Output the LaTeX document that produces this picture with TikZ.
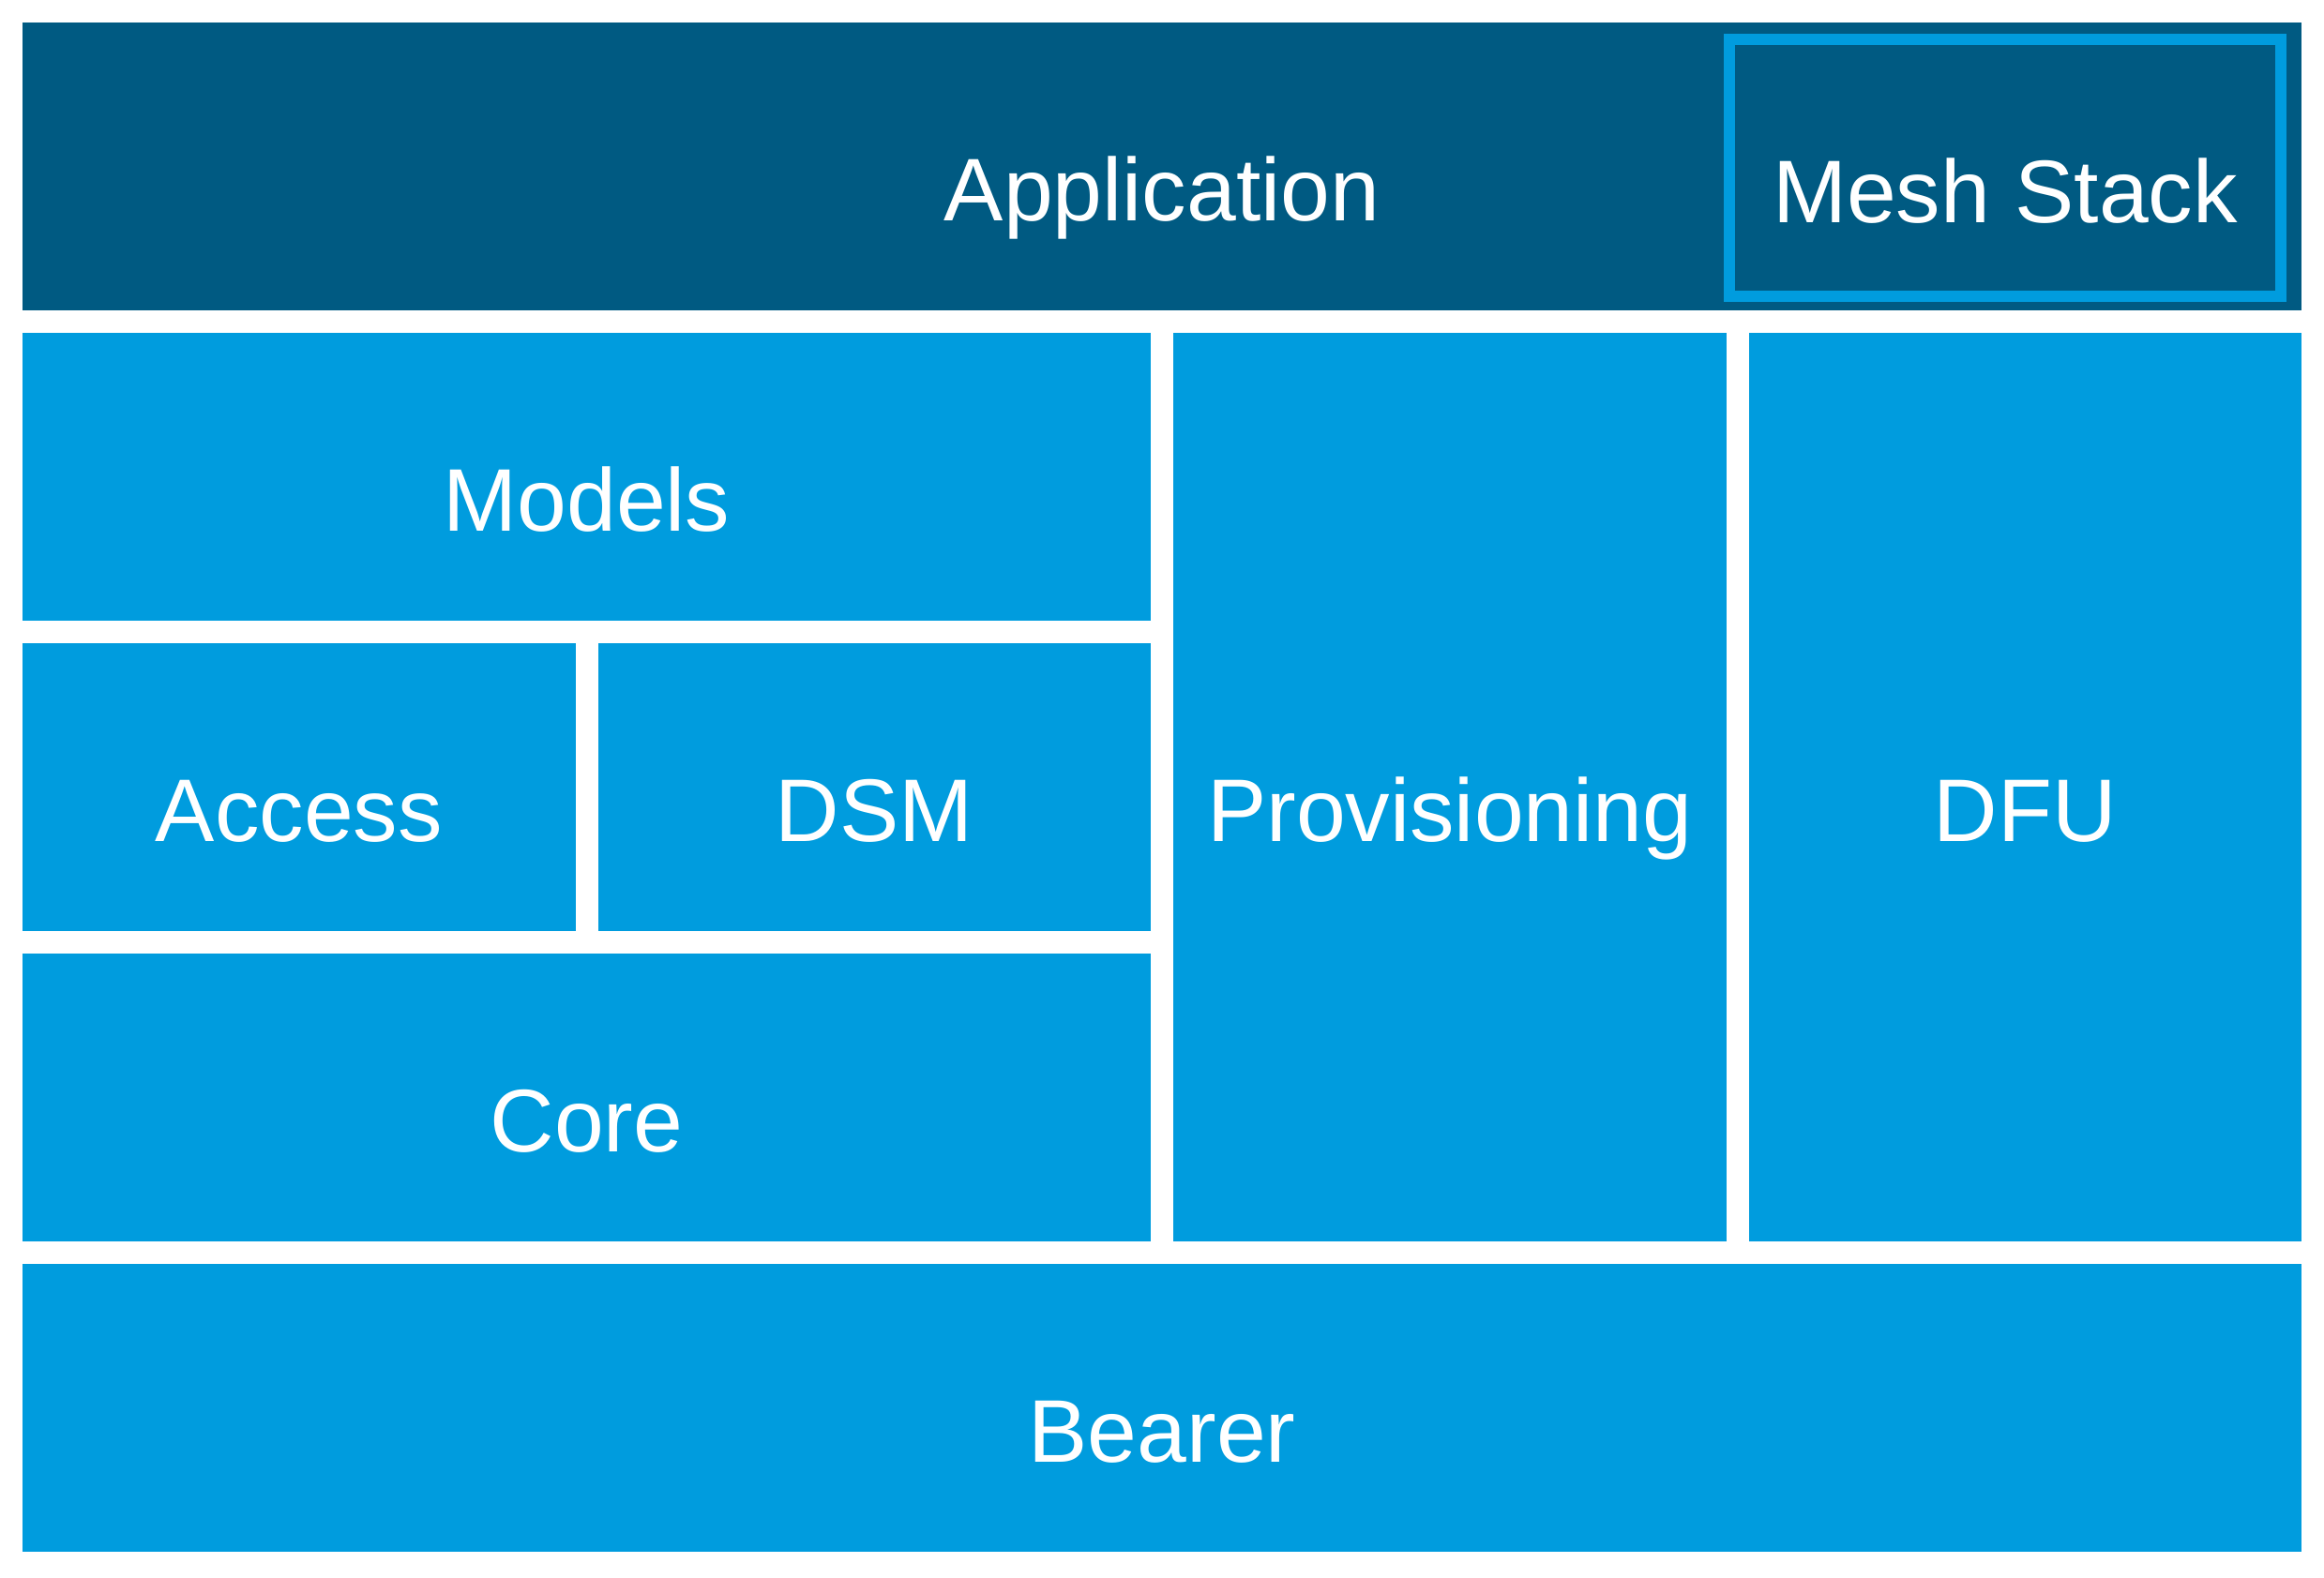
\documentclass[tikz,border=0pt]{standalone}
\usepackage{fontspec}
\setmainfont{Liberation Sans}
\definecolor{appblue}{HTML}{005A82}
\definecolor{layerblue}{HTML}{009CDE}
\tikzset{
	layer/.style={fill=layerblue, text=white, inner sep=0pt, minimum height=3.07cm,
		text height=1.16cm, text depth=0pt, font=\fontsize{27}{30}\selectfont},
}

\begin{document}
\begin{tikzpicture}

\useasboundingbox (0, 0) rectangle (24.78, -16.82);

\node[layer, fill=appblue, minimum width=24.30cm] (app) at (12.39, -1.775) {Application};
\node[layer, fill=appblue, draw=layerblue, line width=0.12cm, minimum width=5.88cm, minimum height=2.74cm] (mesh) at (21.38, -1.79) {Mesh Stack};

\node[layer, minimum width=12.03cm] (models) at (6.255, -5.085) {Models};
\node[layer, minimum width=5.895cm] (access) at (3.1875, -8.395) {Access};
\node[layer, minimum width=5.895cm] (dsm) at (9.3225, -8.395) {DSM};
\node[layer, minimum width=12.03cm] (core) at (6.255, -11.705) {Core};

\node[layer, minimum width=5.895cm, minimum height=9.69cm] (prov) at (15.4575, -8.395) {Provisioning};
\node[layer, minimum width=5.895cm, minimum height=9.69cm] (dfu) at (21.5925, -8.395) {DFU};

\node[layer, minimum width=24.30cm] (bearer) at (12.39, -15.015) {Bearer};

\end{tikzpicture}
\end{document}
